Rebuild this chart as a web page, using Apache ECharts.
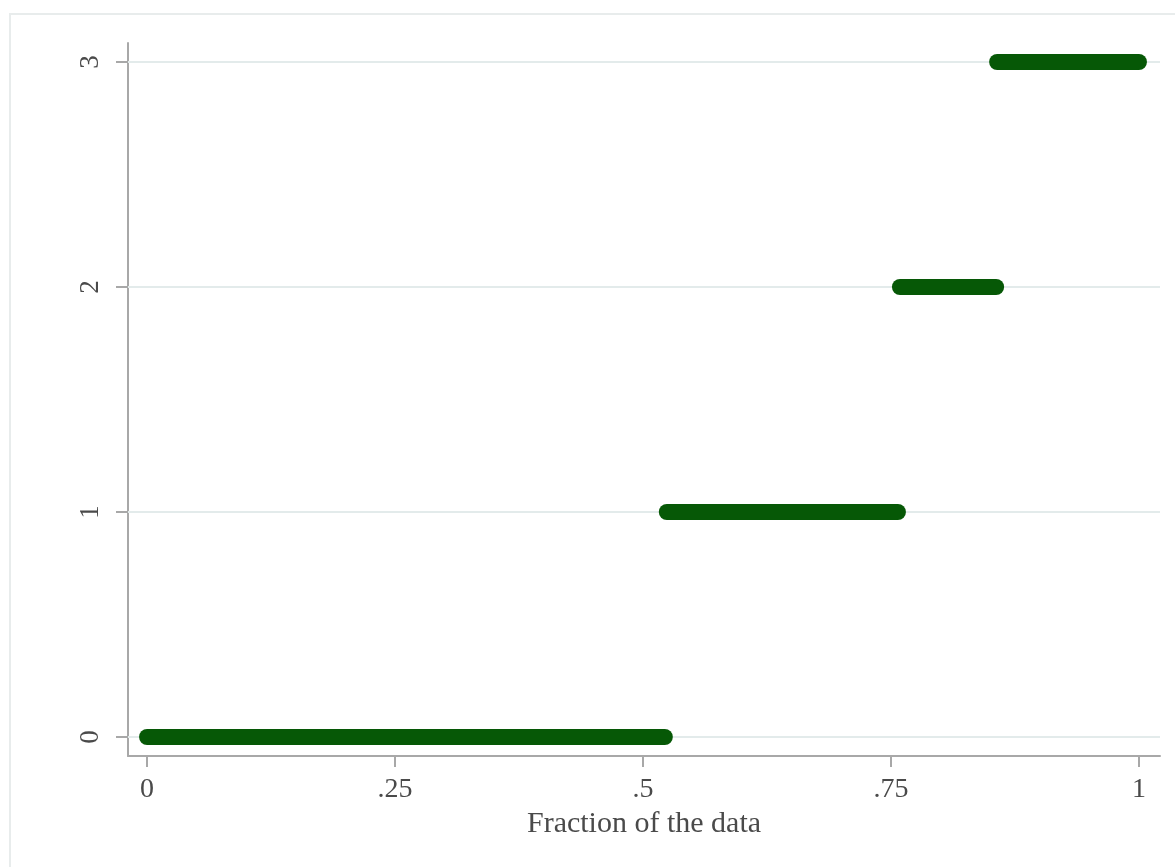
<!DOCTYPE html>
<html>
<head>
<meta charset="utf-8">
<script src="https://cdn.jsdelivr.net/npm/echarts@6/dist/echarts.min.js"></script>
<style>
html,body{margin:0;padding:0;background:#fff;}
#c{width:1175px;height:867px;}
</style>
</head>
<body>
<div id="c"></div>
<script>
// Quantile plot: sorted value (0..3) against fraction of the data
const levels = [0, 1, 2, 3];
const segStart = [0, 0.524, 0.759, 0.857];
const segEnd = [0.522, 0.757, 0.856, 1.0];
const xTicks = [0, 0.25, 0.5, 0.75, 1];
const xTickLabels = ['0', '.25', '.5', '.75', '1'];
const yTicks = [0, 1, 2, 3];
const yTickLabels = ['0', '1', '2', '3'];
const xTitle = 'Fraction of the data';

const chart = echarts.init(document.getElementById('c'), null, {renderer: 'canvas'});
const font = '"Liberation Serif", "DejaVu Serif", serif';
const green = '#065806';

const series = levels.map((lv, i) => ({
  type: 'line',
  data: [[segStart[i], lv], [segEnd[i], lv]],
  symbol: 'none',
  lineStyle: {color: green, width: 16, cap: 'round'},
  silent: true,
  animation: false,
  z: 5
}));
series.push({
  type: 'line',
  data: [],
  silent: true,
  animation: false,
  markLine: {
    symbol: 'none',
    silent: true,
    label: {show: false},
    lineStyle: {color: '#e3ebeb', width: 2, type: 'solid'},
    data: yTicks.map(v => ({yAxis: v}))
  },
  z: 1
});

chart.setOption({
  animation: false,
  backgroundColor: '#fff',
  graphic: [{
    type: 'rect',
    shape: {x: 10, y: 14, width: 1200, height: 900},
    style: {fill: 'none', stroke: '#e8ecec', lineWidth: 2},
    silent: true, z: -10
  }],
  grid: {left: 128, right: 15, top: 43, bottom: 111, containLabel: false},
  xAxis: {
    type: 'value',
    min: -0.0192, max: 1.0212,
    name: xTitle,
    nameLocation: 'middle',
    nameGap: 50,
    nameTextStyle: {fontFamily: font, fontSize: 30, color: '#4a4a4a'},
    axisLine: {show: true, onZero: false, lineStyle: {color: '#a8a8a8', width: 2}},
    axisTick: {show: true, length: 11, customValues: xTicks, lineStyle: {color: '#a8a8a8', width: 2}},
    axisLabel: {
      customValues: xTicks,
      formatter: v => xTickLabels[xTicks.indexOf(v)] ?? '',
      fontFamily: font, fontSize: 28, color: '#4a4a4a', margin: 20
    },
    splitLine: {show: false}
  },
  yAxis: {
    type: 'value',
    min: -0.0844, max: 3.0844,
    axisLine: {show: true, onZero: false, lineStyle: {color: '#a8a8a8', width: 2}},
    axisTick: {show: true, length: 12, customValues: yTicks, lineStyle: {color: '#a8a8a8', width: 2}},
    axisLabel: {
      customValues: yTicks,
      formatter: v => yTickLabels[yTicks.indexOf(v)] ?? '',
      rotate: 90,
      fontFamily: font, fontSize: 27, color: '#4a4a4a', margin: 24
    },
    splitLine: {show: false}
  },
  series: series
});
</script>
</body>
</html>
